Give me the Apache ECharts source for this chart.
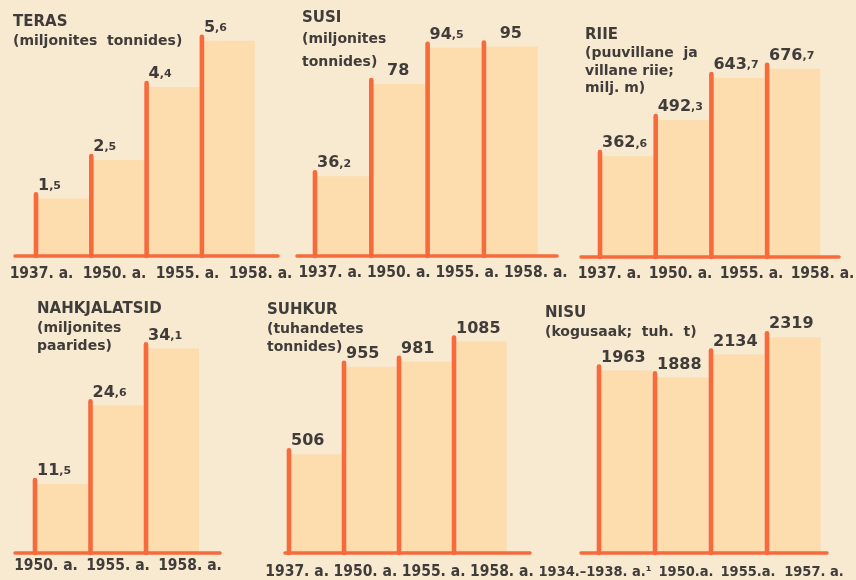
<!DOCTYPE html>
<html>
<head>
<meta charset="utf-8">
<script src="https://cdn.jsdelivr.net/npm/echarts@6/dist/echarts.min.js"></script>
<style>
  html, body { margin: 0; padding: 0; background: #f8e9d1; }
  #chart { width: 856px; height: 580px; }
</style>
</head>
<body>
<div id="chart"></div>
<script>
// --- data -------------------------------------------------------------
const terasTitle = ['TERAS', '(miljonites  tonnides)'];
const terasYears = ['1937. a.', '1950. a.', '1955. a.', '1958. a.'];
const terasValues = [1.5, 2.5, 4.4, 5.6];

const susiTitle = ['SUSI', '(miljonites', 'tonnides)'];
const susiYears = ['1937. a.', '1950. a.', '1955. a.', '1958. a.'];
const susiValues = [36.2, 78, 94.5, 95];

const riieTitle = ['RIIE', '(puuvillane  ja', 'villane riie;', 'milj. m)'];
const riieYears = ['1937. a.', '1950. a.', '1955. a.', '1958. a.'];
const riieValues = [362.6, 492.3, 643.7, 676.7];

const nahkTitle = ['NAHKJALATSID', '(miljonites', 'paarides)'];
const nahkYears = ['1950. a.', '1955. a.', '1958. a.'];
const nahkValues = [11.5, 24.6, 34.1];

const suhkurTitle = ['SUHKUR', '(tuhandetes', 'tonnides)'];
const suhkurYears = ['1937. a.', '1950. a.', '1955. a.', '1958. a.'];
const suhkurValues = [506, 955, 981, 1085];

const nisuTitle = ['NISU', '(kogusaak;  tuh.  t)'];
const nisuYears = ['1934.\u20131938. a.\u00b9', '1950.a.', '1955.a.', '1957. a.'];
const nisuValues = [1963, 1888, 2134, 2319];

// --- styling ----------------------------------------------------------
const RED = '#f66a3c';
const FILL = '#fddcae';
const INK = '#403c39';
const HEAD_FONT = '"DejaVu Sans", sans-serif';
const NUM_FONT = '"DejaVu Sans", sans-serif';
const YEAR_FONT = '"DejaVu Sans Condensed", "Liberation Sans Narrow", "DejaVu Sans", sans-serif';

// Panel frames: baseline extent, baseline y, top of value range,
// offset of the first bar from the baseline start, bar pitch,
// year-label row extent and title anchor.
const panels = [
  { title: terasTitle, years: terasYears, values: terasValues, yMax: 6,
    left: 15, right: 278, base: 256, top: 25.5, first: 21, step: 55.3,
    labL: 5, labR: 297, labY: 274, tx: 13, ty: 13, subLH: 18 },
  { title: susiTitle, years: susiYears, values: susiValues, yMax: 100,
    left: 297, right: 557, base: 256, top: 35.6, first: 18, step: 56.3,
    labL: 296, labR: 570, labY: 273, tx: 302, ty: 9, subLH: 23 },
  { title: riieTitle, years: riieYears, values: riieValues, yMax: 700,
    left: 581, right: 839, base: 257, top: 62.3, first: 19, step: 55.7,
    labL: 574, labR: 858, labY: 273.5, tx: 585, ty: 26, subLH: 17.5 },
  { title: nahkTitle, years: nahkYears, values: nahkValues, yMax: 40,
    left: 15, right: 220, base: 553, top: 313, first: 20, step: 55.5,
    labL: 10, labR: 226, labY: 566, tx: 37, ty: 300, subLH: 18 },
  { title: suhkurTitle, years: suhkurYears, values: suhkurValues, yMax: 1200,
    left: 285, right: 530, base: 553, top: 319, first: 4, step: 55,
    labL: 263, labR: 536, labY: 572, tx: 267, ty: 301, subLH: 18 },
  { title: nisuTitle, years: nisuYears, values: nisuValues, yMax: 2500,
    left: 581, right: 827, base: 553, top: 320.5, first: 18, step: 56,
    labL: 572.5, labR: 848.5, labY: 573, tx: 545, ty: 304, subLH: 18,
    labFont: 14.5, labShift: [-12, 10, 3, 0] }
];

// Value label: integer part large, decimal part (after the comma) small.
function valueRich(v) {
  const parts = String(v).split('.');
  return parts.length > 1
    ? '{n|' + parts[0] + '}{d|,' + parts[1] + '}'
    : '{n|' + parts[0] + '}';
}

function renderBar(params, api) {
  const i = api.value(0);
  const v = api.value(1);
  const top = api.coord([i, v]);
  const base = api.coord([i, 0]);
  const step = api.size([1, 0])[0];
  const x = top[0];
  const w = step - 2.5;
  const stemTop = top[1] - 4;
  const short = String(v).length <= 2;
  return {
    type: 'group',
    children: [
      { type: 'rect', shape: { x: x, y: top[1], width: w, height: base[1] - top[1] },
        style: { fill: FILL } },
      { type: 'line', shape: { x1: x, y1: stemTop, x2: x, y2: base[1] },
        style: { stroke: RED, lineWidth: 4.6, lineCap: 'round' } },
      { type: 'text', x: short ? x + w / 2 : x + 2, y: stemTop - 1,
        style: {
          text: valueRich(v),
          align: short ? 'center' : 'left',
          verticalAlign: 'bottom',
          rich: {
            n: { fontFamily: NUM_FONT, fontWeight: 'bold', fontSize: 16, lineHeight: 17,
                 fill: INK, verticalAlign: 'bottom' },
            d: { fontFamily: NUM_FONT, fontWeight: 'bold', fontSize: 11, lineHeight: 17,
                 fill: INK, verticalAlign: 'bottom', padding: [0, 0, 2, 0] }
          }
        } }
    ]
  };
}

// Year label with an optional horizontal nudge (done through padding).
function yearItem(text, shift) {
  if (!shift) return text;
  const pad = Math.abs(shift) * 2;
  return { value: text, textStyle: { padding: shift < 0 ? [0, pad, 0, 0] : [0, 0, 0, pad] } };
}

const option = {
  backgroundColor: '#f8e9d1',
  animation: false,
  title: [],
  grid: [],
  xAxis: [],
  yAxis: [],
  series: []
};

panels.forEach((p, k) => {
  const width = p.right - p.left;
  // bar grid
  option.grid.push({ left: p.left, top: p.top, width: width, height: p.base - p.top,
                     outerBoundsMode: 'none', containLabel: false });
  option.xAxis.push({
    type: 'value', gridIndex: 2 * k,
    min: -p.first / p.step, max: (width - p.first) / p.step,
    z: 5,
    axisLine: { show: true, onZero: false, lineStyle: { color: RED, width: 3.5 } },
    axisTick: { show: false }, axisLabel: { show: false }, splitLine: { show: false }
  });
  option.yAxis.push({ type: 'value', gridIndex: 2 * k, min: 0, max: p.yMax, show: false });

  // year-label row
  option.grid.push({ left: p.labL, top: p.labY - 9, width: p.labR - p.labL, height: 1,
                     outerBoundsMode: 'none', containLabel: false });
  option.xAxis.push({
    type: 'category', gridIndex: 2 * k + 1,
    data: p.years.map((t, i) => yearItem(t, p.labShift ? p.labShift[i] : 0)),
    axisLine: { show: false }, axisTick: { show: false }, splitLine: { show: false },
    axisLabel: { show: true, interval: 0, margin: 0, hideOverlap: false,
                 color: INK, fontFamily: YEAR_FONT, fontWeight: 'bold',
                 fontSize: p.labFont || 15.5 }
  });
  option.yAxis.push({ type: 'value', gridIndex: 2 * k + 1, show: false });

  option.series.push({
    type: 'custom',
    xAxisIndex: 2 * k, yAxisIndex: 2 * k,
    data: p.values.map((v, i) => [i, v]),
    encode: { x: 0, y: 1 },
    renderItem: renderBar,
    clip: false,
    z: 2
  });

  option.title.push({
    text: p.title[0],
    subtext: p.title.slice(1).join('\n'),
    left: p.tx, top: p.ty, padding: 0, itemGap: 1,
    textStyle: { fontFamily: HEAD_FONT, fontWeight: 'bold', fontSize: 15, lineHeight: 18, color: INK },
    subtextStyle: { fontFamily: HEAD_FONT, fontWeight: 'bold', fontSize: 14, lineHeight: p.subLH, color: INK }
  });
});

const chart = echarts.init(document.getElementById('chart'), null, { renderer: 'canvas' });
chart.setOption(option);
</script>
</body>
</html>
